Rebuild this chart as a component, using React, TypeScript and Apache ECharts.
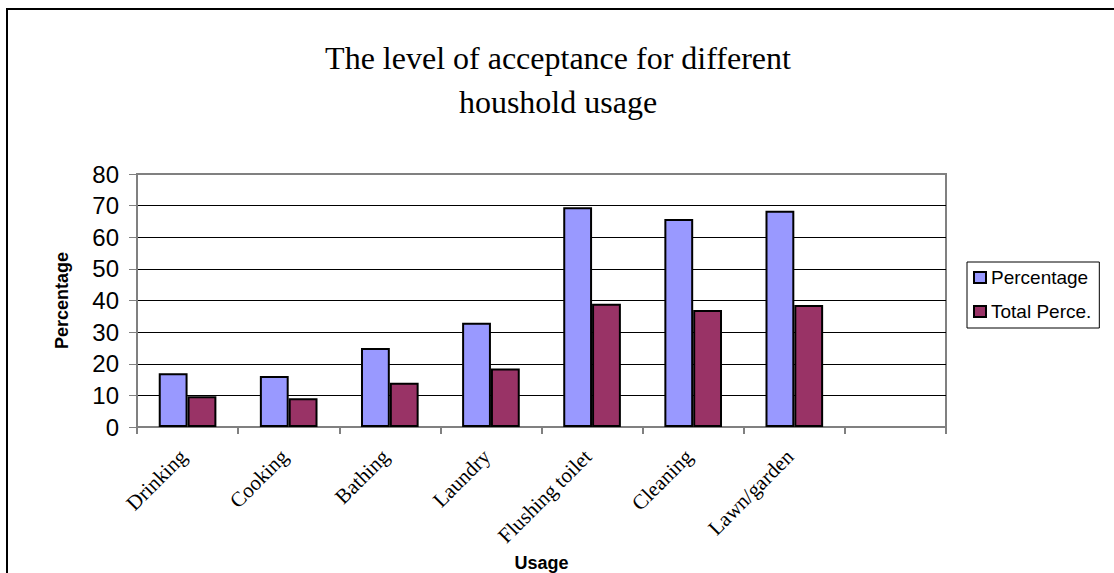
import React, { useEffect, useRef } from "react";
import * as echarts from "echarts";

// Household usage categories (the last slot on the axis is left empty)
const categories = [
  "Drinking",
  "Cooking",
  "Bathing",
  "Laundry",
  "Flushing toilet",
  "Cleaning",
  "Lawn/garden",
  "",
];

const percentage = [17, 16.1, 25, 33, 69.5, 65.8, 68.4, null];
const totalPerce = [9.7, 9.1, 14, 18.5, 39, 37, 38.6, null];

const yTicks = { min: 0, max: 80, interval: 10 };

const SANS = "'Liberation Sans', Arial, sans-serif";
const SERIF = "'Liberation Serif', 'Times New Roman', serif";

export default function App() {
  const ref = useRef<HTMLDivElement>(null);

  useEffect(() => {
    if (!ref.current) return;
    const chart = echarts.init(ref.current, null, { renderer: "svg" });

    chart.setOption({
      animation: false,
      backgroundColor: "#ffffff",
      title: {
        text: "The level of acceptance for different\nhoushold usage",
        left: 553,
        textAlign: "center",
        top: 31,
        textStyle: {
          fontFamily: SERIF,
          fontSize: 32,
          fontWeight: "normal",
          lineHeight: 44,
          color: "#000",
        },
      },
      legend: {
        orient: "vertical",
        left: 967,
        top: 262,
        padding: [6, 8, 7, 6],
        itemGap: 15,
        itemWidth: 12,
        itemHeight: 11,
        icon: "rect",
        borderColor: "#000",
        borderWidth: 1,
        itemStyle: { borderColor: "#000", borderWidth: 2 },
        textStyle: { fontFamily: SANS, fontSize: 19, color: "#000" },
        data: ["Percentage", "Total Perce."],
      },
      grid: {
        left: 137,
        right: 168,
        top: 174,
        bottom: 146,
        outerBoundsMode: "none",
        containLabel: false,
        show: true,
        borderColor: "#808080",
        borderWidth: 2,
        backgroundColor: "transparent",
      },
      xAxis: {
        type: "category",
        data: categories,
        boundaryGap: true,
        name: "Usage",
        nameLocation: "middle",
        nameGap: 127,
        nameTextStyle: { fontFamily: SANS, fontSize: 18, fontWeight: "bold", color: "#000" },
        axisLine: { lineStyle: { color: "#808080", width: 2 } },
        axisTick: { show: true, alignWithLabel: false, length: 7, lineStyle: { color: "#808080", width: 2 } },
        axisLabel: {
          rotate: 45,
          interval: 0,
          margin: 22,
          padding: [0, 6, 0, 0],
          fontFamily: SERIF,
          fontSize: 21,
          color: "#000",
        },
        splitLine: { show: false },
      },
      yAxis: {
        type: "value",
        min: yTicks.min,
        max: yTicks.max,
        interval: yTicks.interval,
        name: "Percentage",
        nameLocation: "middle",
        nameGap: 66,
        nameRotate: 90,
        nameTextStyle: { fontFamily: SANS, fontSize: 18, fontWeight: "bold", color: "#000" },
        axisLine: { show: true, lineStyle: { color: "#808080", width: 2 } },
        axisTick: { show: true, length: 8, lineStyle: { color: "#808080", width: 1 } },
        axisLabel: { fontFamily: SANS, fontSize: 24, color: "#000", margin: 18 },
        splitLine: {
          show: true,
          showMinLine: false,
          showMaxLine: false,
          lineStyle: { color: "#000", width: 1 },
        },
      },
      series: [
        {
          name: "Percentage",
          type: "bar",
          data: percentage,
          barGap: "0%",
          barCategoryGap: "43%",
          itemStyle: { color: "#9999FF", borderColor: "#000", borderWidth: 2 },
        },
        {
          name: "Total Perce.",
          type: "bar",
          data: totalPerce,
          barGap: "0%",
          barCategoryGap: "43%",
          itemStyle: { color: "#993366", borderColor: "#000", borderWidth: 2 },
        },
      ],
      graphic: [
        {
          type: "rect",
          shape: { x: 7, y: 9, width: 1200, height: 700 },
          style: { fill: "none", stroke: "#000", lineWidth: 2 },
          silent: true,
        },
      ],
    });

    return () => chart.dispose();
  }, []);

  return (
    <div
      ref={ref}
      style={{ position: "absolute", left: 0, top: 0, width: 1114, height: 573 }}
    />
  );
}
